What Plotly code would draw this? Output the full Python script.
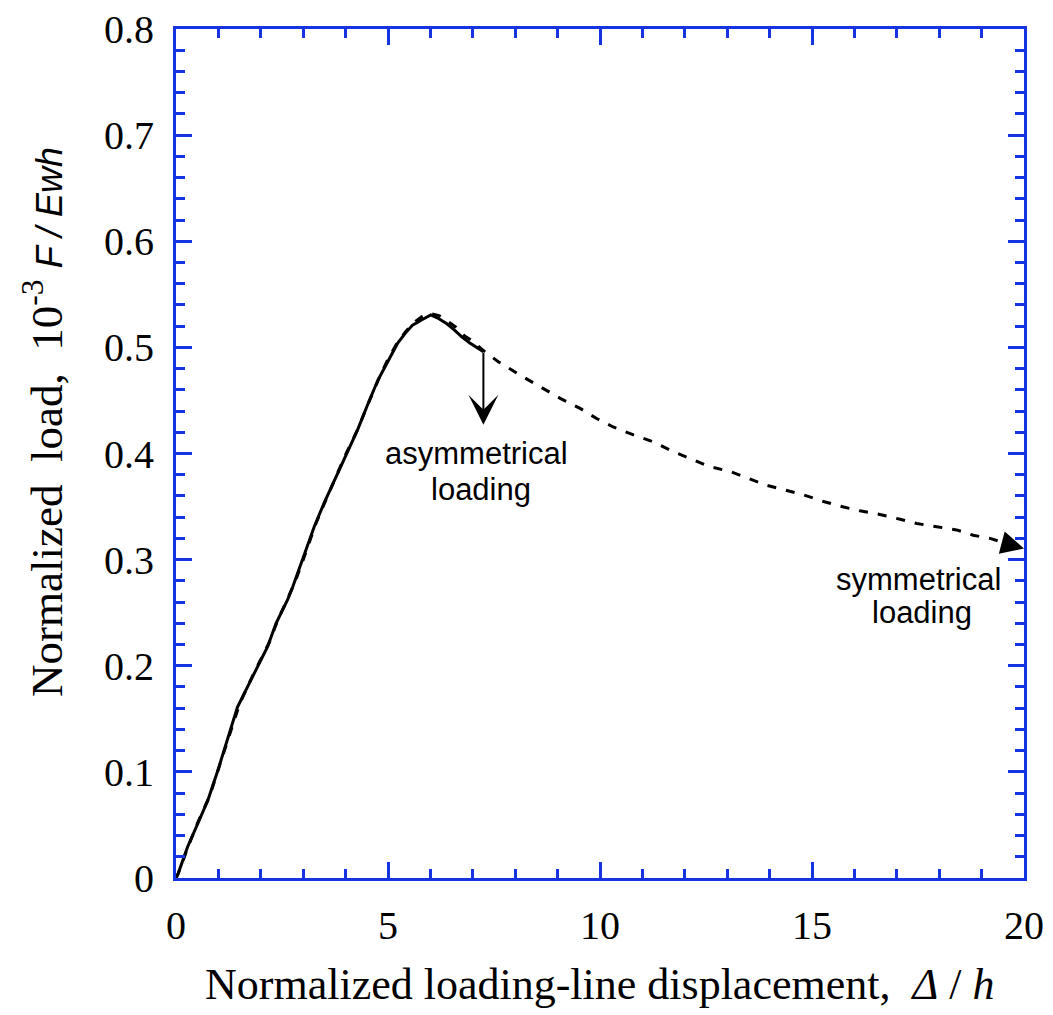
import plotly.graph_objects as go

# Asymmetrical loading: rise to the peak, then the curve stops where the arrow drops
asym_x = [0, 0.04, 0.27, 0.5, 0.75, 1.0, 1.26, 1.45, 1.81, 2.16, 2.36, 2.63, 2.75, 3.0,
          3.26, 3.5, 3.77, 4.0, 4.28, 4.5, 4.76, 5.0, 5.23, 5.4, 5.58, 5.8, 6.01, 6.2,
          6.38, 6.55, 6.74, 6.93, 7.1, 7.25]
asym_y = [0, 0.003, 0.029, 0.05, 0.073, 0.103, 0.136, 0.161, 0.190, 0.218, 0.240, 0.262,
          0.274, 0.301, 0.331, 0.354, 0.378, 0.398, 0.422, 0.444, 0.469, 0.487, 0.504,
          0.513, 0.521, 0.526, 0.5305, 0.527, 0.5225, 0.517, 0.510, 0.504, 0.500, 0.496]

# Symmetrical loading: same rise, then a long softening branch out to 20
sym_x = [0, 0.05, 0.3, 0.5, 0.8, 1.0, 1.3, 1.5, 1.8, 2.2, 2.4, 2.6, 2.8, 3.0, 3.3, 3.5,
         3.8, 4.0, 4.3, 4.5, 4.8, 5.0, 5.2, 5.4, 5.6, 5.8, 6.0, 6.2, 6.4, 6.6, 6.8, 7.0,
         7.25, 7.6, 8.11, 8.58, 9.06, 9.53, 9.92, 10.31, 10.79, 11.26, 11.73, 12.12,
         12.55, 13.07, 13.5, 13.93, 14.36, 14.8, 15.27, 15.7, 16.13, 16.6, 17.08, 17.47,
         17.94, 18.41, 18.8, 19.2, 19.6, 20.0]
sym_y = [0, 0.004, 0.031, 0.051, 0.078, 0.102, 0.139, 0.164, 0.190, 0.222, 0.243, 0.260,
         0.278, 0.300, 0.334, 0.353, 0.381, 0.399, 0.424, 0.444, 0.472, 0.489, 0.503,
         0.514, 0.523, 0.529, 0.532, 0.530, 0.525, 0.519, 0.511, 0.506, 0.497, 0.4865,
         0.474, 0.463, 0.452, 0.4425, 0.433, 0.425, 0.4175, 0.411, 0.4016, 0.3954,
         0.388, 0.383, 0.3768, 0.370, 0.3656, 0.361, 0.3548, 0.350, 0.346, 0.3426,
         0.338, 0.334, 0.331, 0.328, 0.323, 0.320, 0.315, 0.3105]

x_ticks = [0, 5, 10, 15, 20]
y_ticks = [0, 0.1, 0.2, 0.3, 0.4, 0.5, 0.6, 0.7, 0.8]
y_tick_text = ["0", "0.1", "0.2", "0.3", "0.4", "0.5", "0.6", "0.7", "0.8"]

AXIS_BLUE = "#1533e0"
SERIF = "Liberation Serif"
SANS = "Liberation Sans"

fig = go.Figure()
fig.add_trace(go.Scatter(x=sym_x, y=sym_y, mode="lines",
                         line=dict(color="black", width=3, dash="9px,10px"),
                         showlegend=False, hoverinfo="skip"))
fig.add_trace(go.Scatter(x=asym_x, y=asym_y, mode="lines",
                         line=dict(color="black", width=3),
                         showlegend=False, hoverinfo="skip"))

axis_common = dict(
    showline=True, linecolor=AXIS_BLUE, linewidth=3, mirror="allticks",
    ticks="inside", ticklen=16, tickwidth=2.5, tickcolor=AXIS_BLUE,
    showgrid=False, zeroline=False, automargin=False,
    tickfont=dict(family=SERIF, size=40, color="black"),
)

fig.update_xaxes(range=[0, 20], tickvals=x_ticks, ticktext=[str(v) for v in x_ticks],
                 minor=dict(dtick=1, ticks="inside", ticklen=9, tickwidth=2.5,
                            tickcolor=AXIS_BLUE, showgrid=False),
                 ticklabelstandoff=10, **axis_common)
fig.update_yaxes(range=[0, 0.8], tickvals=y_ticks, ticktext=y_tick_text,
                 minor=dict(dtick=0.02, ticks="inside", ticklen=9, tickwidth=2.5,
                            tickcolor=AXIS_BLUE, showgrid=False),
                 ticklabelstandoff=11, **axis_common)

# Arrow marking the drop of the asymmetrical curve
fig.add_annotation(x=7.25, y=0.427, ax=7.25, ay=0.496, xref="x", yref="y",
                   axref="x", ayref="y", showarrow=True, arrowhead=3, arrowsize=2.5,
                   arrowwidth=2, arrowcolor="black", text="", standoff=0)
# Arrow head at the end of the symmetrical curve
fig.add_annotation(x=20.0, y=0.3105, ax=19.45, ay=0.3163, xref="x", yref="y",
                   axref="x", ayref="y", showarrow=True, arrowhead=2, arrowsize=2.3,
                   arrowwidth=2, arrowcolor="black", text="", standoff=0)

label_font = dict(family=SANS, size=31, color="black")
for txt, x, y in [("asymmetrical", 7.08, 0.400), ("loading", 7.2, 0.3665),
                  ("symmetrical", 17.5, 0.2815), ("loading", 17.6, 0.2505)]:
    fig.add_annotation(x=x, y=y, xref="x", yref="y", text=txt, showarrow=False,
                       font=label_font, xanchor="center", yanchor="middle")

# Axis titles
fig.add_annotation(
    x=0.5, y=-0.126, xref="paper", yref="paper", showarrow=False,
    xanchor="center", yanchor="middle",
    text="Normalized loading-line displacement,&nbsp;&nbsp;<i>Δ</i> / <i>h</i>",
    font=dict(family=SERIF, size=44, color="black"))
fig.add_annotation(
    x=-0.157, y=0.537, xref="paper", yref="paper", showarrow=False,
    xanchor="center", yanchor="middle", textangle=-90,
    text=("Normalized&nbsp;&nbsp;load,&nbsp;&nbsp;10<sup>-3</sup>&nbsp;"
          "<span style='font-family:Liberation Sans;font-size:36px'><i>F / Ewh</i></span>"),
    font=dict(family=SERIF, size=45, color="black"))

fig.update_layout(
    width=1053, height=1015, autosize=False,
    margin=dict(l=176, r=29, t=29, b=137),
    plot_bgcolor="white", paper_bgcolor="white",
)

fig.write_html("out.html")
